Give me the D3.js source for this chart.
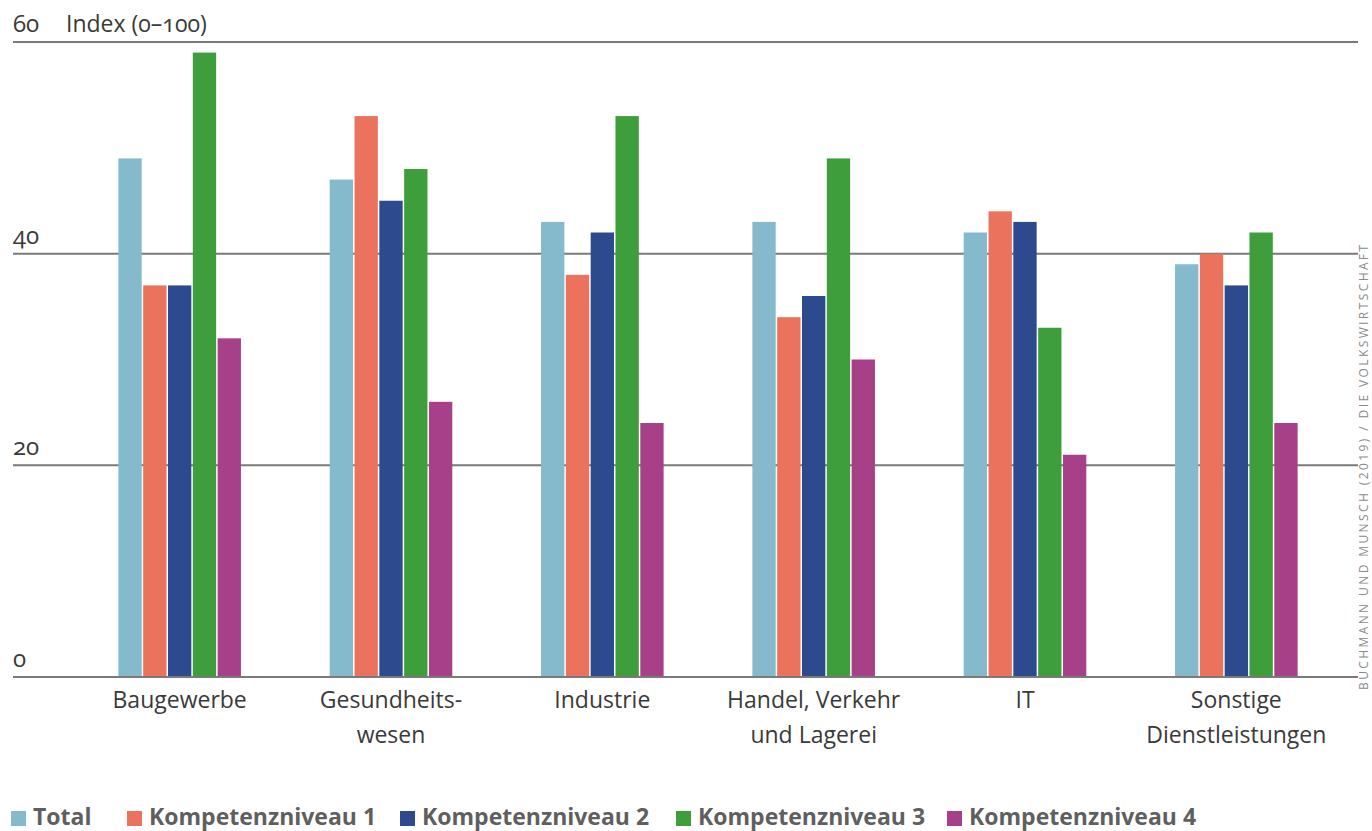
<!DOCTYPE html>
<html>
<head>
<meta charset="utf-8">
<script src="https://cdn.jsdelivr.net/npm/d3@7"></script>
<style>
  body { margin: 0; background: #fff; }
  text { font-family: "Open Sans", "Noto Sans", sans-serif; fill: #3a3a3a; }
</style>
</head>
<body>
<div id="grafik"></div>
<script>
/*************************** DATEN ***************************/
var branchen = [['Baugewerbe'], ['Gesundheits-', 'wesen'], ['Industrie'],
                ['Handel, Verkehr', 'und Lagerei'], ['IT'], ['Sonstige', 'Dienstleistungen']];
var serien = ['Total', 'Kompetenzniveau 1', 'Kompetenzniveau 2', 'Kompetenzniveau 3', 'Kompetenzniveau 4'];
var total = [49, 47, 43, 43, 42, 39];
var niveau1 = [37, 53, 38, 34, 44, 40];
var niveau2 = [37, 45, 42, 36, 43, 37];
var niveau3 = [59, 48, 53, 49, 33, 42];
var niveau4 = [32, 26, 24, 30, 21, 24];
var yTicks = [0, 20, 40, 60];
var farben = ['#84bacb', '#eb725c', '#2d4a8f', '#3f9e3c', '#a84089'];
var quelle = 'BUCHMANN UND MUNSCH (2019) / DIE VOLKSWIRTSCHAFT';

var breite = 1372, hoehe = 831;
var werte = [total, niveau1, niveau2, niveau3, niveau4];

var svg = d3.select('#grafik')
    .append('svg')
    .attr('width', breite)
    .attr('height', hoehe);

/*************************** SKALEN ***************************/
var x0 = d3.scaleBand()
    .domain(d3.range(branchen.length))
    .range([74, 1342])
    .paddingInner(0.42)
    .paddingOuter(0.21);

var x1 = d3.scaleBand()
    .domain(d3.range(serien.length))
    .range([0, x0.bandwidth()])
    .paddingInner(0.06);

var y = d3.scaleLinear()
    .domain([0, 60])
    .range([677, 42]);

/*************************** GITTER ***************************/
svg.append('g').attr('id', 'gitter')
    .selectAll('line')
    .data(yTicks)
    .enter()
    .append('line')
    .attr('x1', 13)
    .attr('x2', 1358)
    .attr('y1', function(d) { return y(d); })
    .attr('y2', function(d) { return y(d); })
    .style('stroke', '#7a7a7a')
    .style('stroke-width', 2);

svg.append('g').attr('id', 'ylabels')
    .selectAll('text')
    .data(yTicks)
    .enter()
    .append('text')
    .attr('x', 13)
    .attr('y', function(d) { return y(d) - 10; })
    .style('font-size', '24px')
    .style('font-feature-settings', '"onum"')
    .text(function(d) { return d; });

svg.append('text')
    .attr('x', 66)
    .attr('y', y(60) - 10)
    .style('font-size', '23px')
    .style('font-feature-settings', '"onum"')
    .text('Index (0–100)');

/*************************** BALKEN ***************************/
var gruppen = svg.append('g').attr('id', 'balken')
    .selectAll('g')
    .data(branchen)
    .enter()
    .append('g')
    .attr('transform', function(d, i) { return 'translate(' + x0(i) + ',0)'; });

gruppen.selectAll('rect')
    .data(function(d, i) { return werte.map(function(s, j) { return { serie: j, wert: s[i] }; }); })
    .enter()
    .append('rect')
    .attr('x', function(d) { return x1(d.serie); })
    .attr('y', function(d) { return y(d.wert); })
    .attr('width', x1.bandwidth())
    .attr('height', function(d) { return y(0) - y(d.wert); })
    .style('fill', function(d) { return farben[d.serie]; });

// Nulllinie über die Balken legen
svg.append('line')
    .attr('x1', 13).attr('x2', 1358)
    .attr('y1', y(0)).attr('y2', y(0))
    .style('stroke', '#7a7a7a')
    .style('stroke-width', 2);

/*************************** KATEGORIEN ***************************/
svg.append('g').attr('id', 'kategorien')
    .selectAll('text')
    .data(branchen)
    .enter()
    .append('text')
    .attr('text-anchor', 'middle')
    .attr('x', function(d, i) { return x0(i) + x0.bandwidth() / 2; })
    .attr('y', 708)
    .style('font-size', '23px')
    .each(function(d) {
        var t = d3.select(this);
        d.forEach(function(zeile, k) {
            t.append('tspan')
                .attr('x', t.attr('x'))
                .attr('dy', k === 0 ? 0 : 35)
                .text(zeile);
        });
    });

/*************************** LEGENDE ***************************/
var legendeX = [11, 127, 400, 676, 947];
var legende = svg.append('g').attr('id', 'legende')
    .selectAll('g')
    .data(serien)
    .enter()
    .append('g')
    .attr('transform', function(d, i) { return 'translate(' + legendeX[i] + ',0)'; });

legende.append('rect')
    .attr('x', 0)
    .attr('y', 811)
    .attr('width', 15)
    .attr('height', 15)
    .style('fill', function(d, i) { return farben[i]; });

legende.append('text')
    .attr('x', 22)
    .attr('y', 825)
    .style('font-weight', 'bold')
    .style('font-size', '23px')
    .style('fill', '#5f5f5f')
    .text(function(d) { return d; });

/*************************** QUELLE ***************************/
svg.append('text')
    .attr('transform', 'translate(1368,690) rotate(-90)')
    .style('font-size', '12px')
    .style('letter-spacing', '2.4px')
    .style('fill', '#8a8a8a')
    .text(quelle);
</script>
</body>
</html>
